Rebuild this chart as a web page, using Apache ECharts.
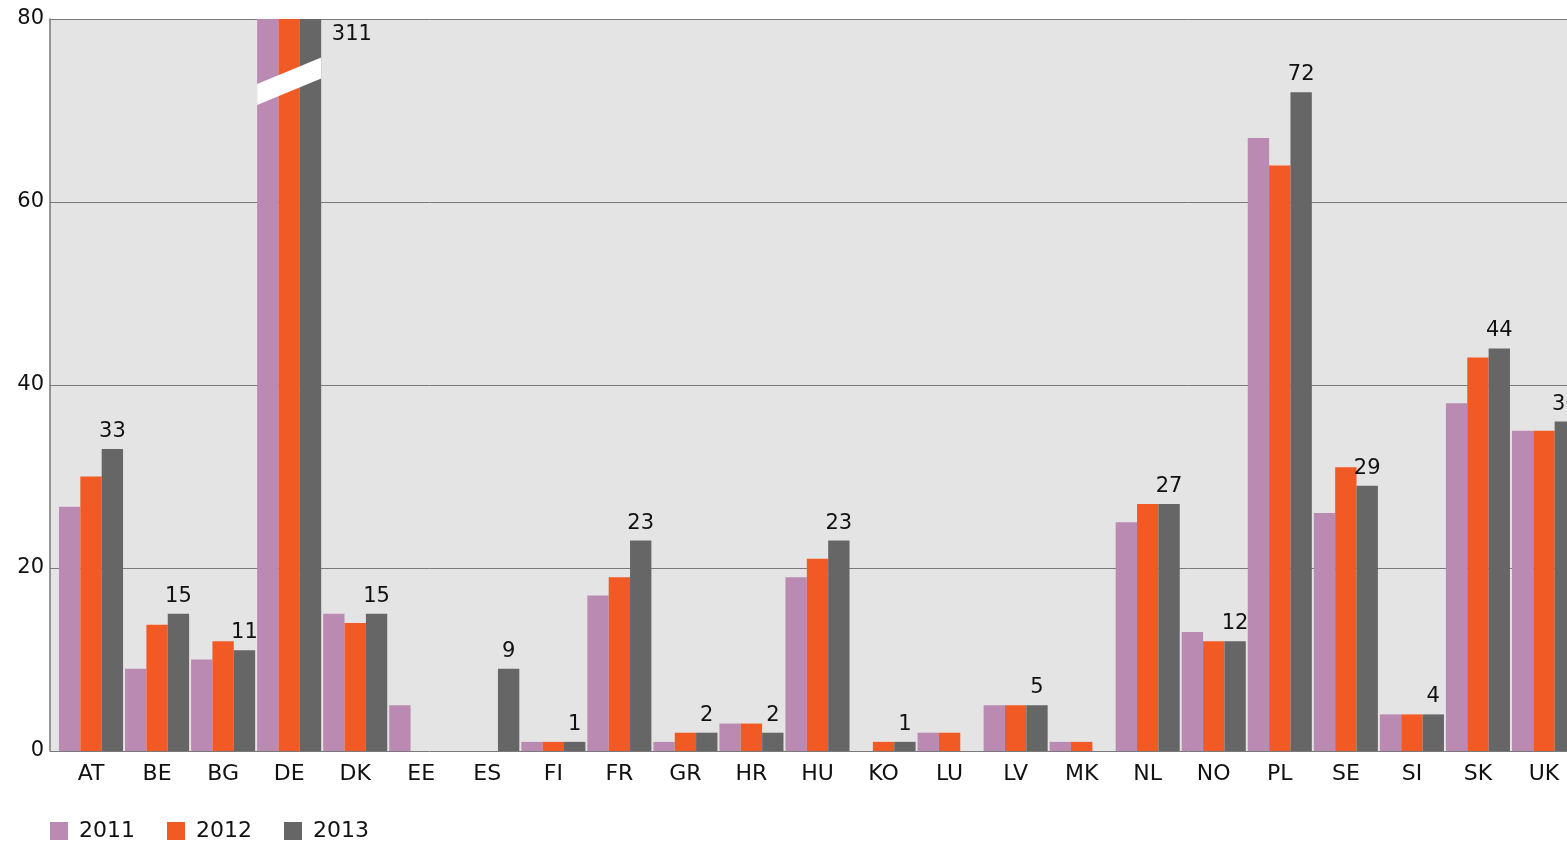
<!DOCTYPE html>
<html>
<head>
<meta charset="utf-8">
<script src="https://cdn.jsdelivr.net/npm/echarts@6/dist/echarts.min.js"></script>
<style>
html,body{margin:0;padding:0;background:#fff;}
#c{width:1567px;height:841px;}
</style>
</head>
<body>
<div id="c"></div>
<script>
var categories = ['AT','BE','BG','DE','DK','EE','ES','FI','FR','GR','HR','HU','KO','LU','LV','MK','NL','NO','PL','SE','SI','SK','UK'];
var years = ['2011','2012','2013'];
var values2011 = [26.7, 9, 10, 287, 15, 5, 0, 1, 17, 1, 3, 19, 0, 2, 5, 1, 25, 13, 67, 26, 4, 38, 35];
var values2012 = [30, 13.8, 12, 298, 14, 0, 0, 1, 19, 2, 3, 21, 1, 2, 5, 1, 27, 12, 64, 31, 4, 43, 35];
var values2013 = [33, 15, 11, 311, 15, 0, 9, 1, 23, 2, 2, 23, 1, 0, 5, 0, 27, 12, 72, 29, 4, 44, 36];
var yTicks = [0, 20, 40, 60, 80];
// axis-break band drawn across the DE bars: [category, lowLeft, highLeft, lowRight, highRight]
var breakBand = [[3, 70.6, 72.9, 73.5, 75.8]];

var colors = ['#bb8ab2', '#f15a24', '#666666'];
var FONT = 'DejaVu Sans';

var chart = echarts.init(document.getElementById('c'));
var labelData2013 = values2013.map(function (v, i) {
  if (categories[i] === 'DE') {
    return { value: v, label: { position: [32, 5] } };
  }
  return v;
});

chart.setOption({
  animation: false,
  backgroundColor: '#ffffff',
  textStyle: { fontFamily: FONT },
  legend: {
    data: years,
    left: 50,
    top: 820,
    padding: 0,
    itemWidth: 18,
    itemHeight: 18,
    itemGap: 32,
    icon: 'rect',
    textStyle: { fontFamily: FONT, fontSize: 22, color: '#111', padding: [0, 0, 0, 6] }
  },
  grid: [
    { left: 50, top: 19, width: 1540, bottom: 90, show: true, backgroundColor: '#e4e4e4', borderWidth: 0, outerBoundsMode: 'none', containLabel: false },
    { left: 58, top: 19, width: 1519, bottom: 90, outerBoundsMode: 'none', containLabel: false }
  ],
  xAxis: [
    { type: 'value', gridIndex: 0, show: false, min: 0, max: 1 },
    {
      type: 'category', gridIndex: 1, data: categories,
      axisLine: { show: false },
      axisTick: { show: false },
      axisLabel: { fontFamily: FONT, fontSize: 22, color: '#111', margin: 12 }
    }
  ],
  yAxis: [
    {
      type: 'value', gridIndex: 0, min: 0, max: 80, interval: 20,
      axisLine: { show: true, lineStyle: { color: '#777', width: 1.5 } },
      axisTick: { show: false },
      splitLine: { show: true, lineStyle: { color: '#7a7a7a', width: 1 } },
      axisLabel: {
        fontFamily: FONT, fontSize: 21, color: '#111', margin: 6,
        formatter: function (v) { return yTicks.indexOf(v) >= 0 ? String(v) : ''; }
      }
    },
    { type: 'value', gridIndex: 1, min: 0, max: 80, interval: 20, show: false, splitLine: { show: false } }
  ],
  series: [
    {
      name: '2011', type: 'bar', xAxisIndex: 1, yAxisIndex: 1, data: values2011,
      itemStyle: { color: colors[0] }, barGap: '0%', barCategoryGap: '3%', clip: true
    },
    {
      name: '2012', type: 'bar', xAxisIndex: 1, yAxisIndex: 1, data: values2012,
      itemStyle: { color: colors[1] }, barGap: '0%', barCategoryGap: '3%', clip: true
    },
    {
      name: '2013', type: 'bar', xAxisIndex: 1, yAxisIndex: 1, data: labelData2013,
      itemStyle: { color: colors[2] }, barGap: '0%', barCategoryGap: '3%', clip: true,
      label: {
        show: true, position: 'top', distance: 7,
        fontFamily: FONT, fontSize: 21, color: '#111',
        formatter: function (p) { return p.value === 0 ? '' : String(p.value); }
      }
    },
    {
      type: 'custom', xAxisIndex: 1, yAxisIndex: 1, z: 10, silent: true,
      data: breakBand,
      renderItem: function (params, api) {
        var idx = api.value(0);
        var band = api.size([1, 0])[0];
        var half = band * 0.97 / 2;
        var c = api.coord([idx, 0])[0];
        var yll = api.coord([idx, api.value(1)])[1];
        var yhl = api.coord([idx, api.value(2)])[1];
        var ylr = api.coord([idx, api.value(3)])[1];
        var yhr = api.coord([idx, api.value(4)])[1];
        return {
          type: 'polygon',
          shape: { points: [[c - half, yhl], [c + half, yhr], [c + half, ylr], [c - half, yll]] },
          style: { fill: '#ffffff' }
        };
      }
    }
  ]
});
</script>
</body>
</html>
